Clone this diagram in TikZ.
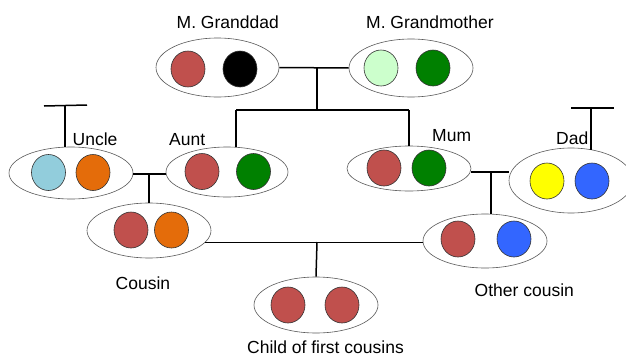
\documentclass[tikz,border=0pt]{standalone}
\usepackage{fontspec}
\setmainfont{Liberation Sans}
\usetikzlibrary{shapes.geometric}
\definecolor{cred}{RGB}{192,80,77}
\definecolor{cltgreen}{RGB}{204,255,204}
\definecolor{cdkgreen}{RGB}{0,128,0}
\definecolor{cltblue}{RGB}{146,205,220}
\definecolor{corange}{RGB}{228,108,10}
\definecolor{cyellow}{RGB}{255,255,0}
\definecolor{cblue}{RGB}{51,102,255}
\definecolor{cedge}{RGB}{90,90,90}
\tikzset{
  fam/.style={ellipse, draw=cedge, line width=0.6pt, fill=white, inner sep=0pt, minimum width=124pt},
  person/.style={ellipse, draw=black!80, line width=0.6pt, inner sep=0pt, minimum width=34pt, minimum height=36pt},
  lbl/.style={anchor=base west, inner sep=0pt, font=\fontsize{17.5}{20}\selectfont},
  link/.style={line width=1.5pt, black},
}
\begin{document}
\begin{tikzpicture}[x=1pt,y=-1pt]
\useasboundingbox (0,0) rectangle (626,356);
\fill[white] (0,0) rectangle (626,356);
% family ellipses
\node[fam, minimum width=123pt, minimum height=59pt] (gd) at (217.5,67.5) {};
\node[fam, minimum height=58pt] (gm) at (411,68) {};
\node[fam, minimum height=52pt] (un) at (71,173) {};
\node[fam, minimum width=122pt, minimum height=50pt] (au) at (227,172) {};
\node[fam, minimum height=45pt] (mu) at (409,168.5) {};
\node[fam, minimum height=65pt] (da) at (571,180.5) {};
\node[fam, minimum height=55pt] (co) at (149,230.5) {};
\node[fam, minimum height=54pt] (oc) at (485,241) {};
\node[fam, minimum height=56pt] (ch) at (316,305) {};
% persons
\node[person, fill=cred] (gd1) at (188,69) {};
\node[person, fill=black] (gd2) at (240,69) {};
\node[person, fill=cltgreen] (gm1) at (381,68) {};
\node[person, fill=cdkgreen] (gm2) at (433,68) {};
\node[person, fill=cltblue] (un1) at (48.5,172.5) {};
\node[person, fill=corange] (un2) at (93,172.5) {};
\node[person, fill=cred] (au1) at (202,171.5) {};
\node[person, fill=cdkgreen] (au2) at (253.5,171.5) {};
\node[person, fill=cred] (mu1) at (384,168) {};
\node[person, fill=cdkgreen] (mu2) at (429,168) {};
\node[person, fill=cyellow] (da1) at (547,181) {};
\node[person, fill=cblue] (da2) at (592,181) {};
\node[person, fill=cred] (co1) at (131,230) {};
\node[person, fill=corange] (co2) at (171.5,230) {};
\node[person, fill=cred] (oc1) at (458,239) {};
\node[person, fill=cblue] (oc2) at (514,239) {};
\node[person, fill=cred] (ch1) at (288,305) {};
\node[person, fill=cred] (ch2) at (342,305) {};
% labels
\node[lbl] (lgd) at (176.5,28) {M. Granddad};
\node[lbl] (lgm) at (366,28) {M. Grandmother};
\node[lbl] (lun) at (72.5,145.5) {Uncle};
\node[lbl] (lau) at (169,145.5) {Aunt};
\node[lbl] (lmu) at (432,141) {Mum};
\node[lbl] (lda) at (556,144.3) {Dad};
\node[lbl] (lco) at (115.5,289.3) {Cousin};
\node[lbl] (loc) at (474.5,296.7) {Other cousin};
\node[lbl] (lch) at (247,353) {Child of first cousins};
% junction coordinates
\coordinate (gj) at (317,68);
\coordinate (gb) at (317,110);
\coordinate (ga) at (236,110);
\coordinate (gmu) at (409,110);
\coordinate (uaj) at (149,174);
\coordinate (mdj) at (491,172);
\coordinate (ccj) at (317,242);
\coordinate (ut) at (65,106);
\coordinate (utl) at (44,106);
\coordinate (utr) at (87,105);
\coordinate (dt) at (591,108);
\coordinate (dtl) at (571,108);
\coordinate (dtr) at (614,108);
% connectors
\draw[link] (gd.east) -- (gm.west);
\draw[link] (gj) -- (gb);
\draw[link] (ga) -- (gmu);
\draw[link] (ga) -- (ga |- au.north);
\draw[link] (gmu) -- (mu.north);
\draw[link] (uaj -| un.east) -- (uaj -| au.west);
\draw[link] (uaj) -- (co.north);
\draw[link] (mdj -| mu.east) -- (mdj -| da.west);
\draw[link] (mdj) -- (mdj |- oc.north);
\draw[link] (co.-12) -- (co.-12 -| oc.west);
\draw[link] (ccj) -- (ch.north);
\draw[link] (utl) -- (utr);
\draw[link] (ut) -- (ut |- un.north);
\draw[link] (dtl) -- (dtr);
\draw[link, shorten >=-2pt] (dt) -- (dt |- da.north);
\end{tikzpicture}
\end{document}
